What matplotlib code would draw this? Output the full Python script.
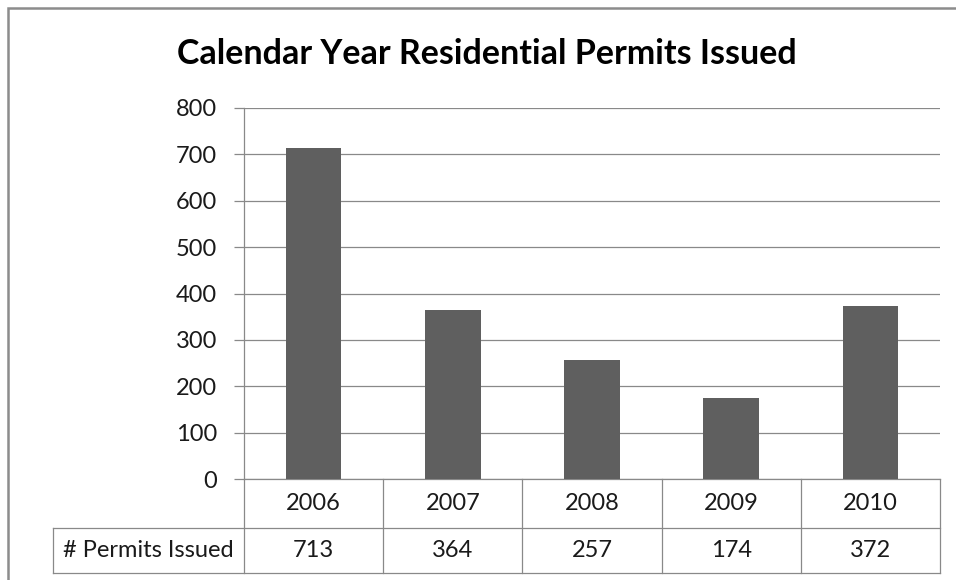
import matplotlib.pyplot as plt
from matplotlib.patches import Rectangle

# chart data
years = ["2006", "2007", "2008", "2009", "2010"]
permits = [713, 364, 257, 174, 372]
row_label = "# Permits Issued"
title = "Calendar Year Residential Permits Issued"
y_ticks = [0, 100, 200, 300, 400, 500, 600, 700, 800]

plt.rcParams['font.family'] = ['Lato', 'DejaVu Sans']
grid_col = '#898989'
bar_col = '#5f5f5f'
txt_col = '#1a1a1a'
fs = 17
W, H = 956, 580

fig = plt.figure(figsize=(W / 100, H / 100), dpi=100)
# outer chart border (left and top are visible, rest is cropped)
fig.patches.append(Rectangle((8 / W, -0.1), 1.2, 1 - 8 / H + 0.1,
                             transform=fig.transFigure, fill=False,
                             edgecolor='#8c8c8c', linewidth=1.8))

ax = fig.add_axes([244 / W, 1 - 479 / H, (940 - 244) / W, (479 - 108) / H])
x = range(len(years))
ax.bar(x, permits, width=0.4, color=bar_col, zorder=3)
ax.set_xlim(-0.5, len(years) - 0.5)
ax.set_ylim(0, 800)
ax.set_yticks(y_ticks)
ax.set_xticks([])
ax.yaxis.grid(True, color=grid_col, linewidth=0.9)
ax.set_axisbelow(True)
for s in ['top', 'right', 'bottom']:
    ax.spines[s].set_visible(False)
ax.spines['left'].set_color(grid_col)
ax.spines['left'].set_linewidth(0.9)
ax.tick_params(axis='y', length=7.5, width=0.9, color=grid_col, pad=12,
               labelsize=fs, labelcolor=txt_col)

fig.suptitle(title, x=487 / W, y=1 - 54 / H, va='center',
             fontsize=24.5, fontweight='bold')

# data table under the axis
h1 = 49 / (479 - 108)
h2 = 94 / (479 - 108)
trans = ax.get_xaxis_transform()
lw = 0.9
left_cell = -0.5 - (244 - 53) / ((940 - 244) / len(years))
ax.plot([-0.5, 4.5], [0, 0], transform=trans, color=grid_col, lw=lw, clip_on=False)
for yy in (-h1, -h2):
    ax.plot([left_cell, 4.5], [yy, yy], transform=trans, color=grid_col, lw=lw, clip_on=False)
ax.plot([-0.5, -0.5], [0, -h2], transform=trans, color=grid_col, lw=lw, clip_on=False)
ax.plot([left_cell, left_cell], [-h1, -h2], transform=trans, color=grid_col, lw=lw, clip_on=False)
for i in range(len(years)):
    ax.plot([i + 0.5, i + 0.5], [0, -h2], transform=trans, color=grid_col, lw=lw, clip_on=False)
    ax.text(i, -h1 / 2, years[i], transform=trans, ha='center', va='center',
            fontsize=fs, color=txt_col)
    ax.text(i, -(h1 + h2) / 2, str(permits[i]), transform=trans, ha='center', va='center',
            fontsize=fs, color=txt_col)
ax.text((left_cell - 0.5) / 2, -(h1 + h2) / 2, row_label, transform=trans,
        ha='center', va='center', fontsize=fs, color=txt_col)

fig.savefig('out.png', dpi=100)
